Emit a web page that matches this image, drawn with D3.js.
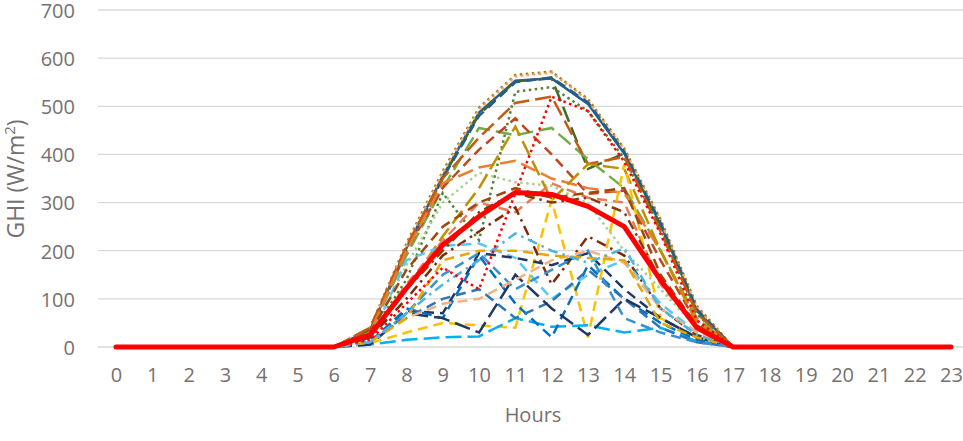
<!DOCTYPE html>
<meta charset="utf-8">
<style>
  body { margin: 0; background: #fff; }
  text { font-family: "Open Sans", sans-serif; fill: #767171; }
</style>
<script src="https://d3js.org/d3.v7.min.js"></script>
<div id="chart"></div>
<script>
// hours of the day
var hours = [0,1,2,3,4,5,6,7,8,9,10,11,12,13,14,15,16,17,18,19,20,21,22,23];
var yTicks = [0,100,200,300,400,500,600,700];

// daily GHI profiles (W/m2)
var day01 = [0,0,0,0,0,0,0,35,205,355,487,553,558,505,402,255,75,0,0,0,0,0,0,0];
var day02 = [0,0,0,0,0,0,0,40,215,365,497,565,572,515,412,265,85,0,0,0,0,0,0,0];
var day03 = [0,0,0,0,0,0,0,38,210,360,493,562,570,512,410,262,82,0,0,0,0,0,0,0];
var day04 = [0,0,0,0,0,0,0,35,205,352,483,552,558,370,402,250,72,0,0,0,0,0,0,0];
var day05 = [0,0,0,0,0,0,0,30,200,350,480,550,560,508,405,258,78,0,0,0,0,0,0,0];
var day06 = [0,0,0,0,0,0,0,25,140,320,222,530,540,490,392,245,68,0,0,0,0,0,0,0];
var day07 = [0,0,0,0,0,0,0,20,170,300,362,342,335,298,200,120,40,0,0,0,0,0,0,0];
var day08 = [0,0,0,0,0,0,0,30,190,330,455,440,455,390,330,200,60,0,0,0,0,0,0,0];
var day09 = [0,0,0,0,0,0,0,35,200,331,410,475,400,318,325,180,50,0,0,0,0,0,0,0];
var day10 = [0,0,0,0,0,0,0,40,210,350,435,507,520,380,395,240,70,0,0,0,0,0,0,0];
var day11 = [0,0,0,0,0,0,0,30,200,340,373,387,350,330,320,200,55,0,0,0,0,0,0,0];
var day12 = [0,0,0,0,0,0,0,20,120,230,330,458,305,380,370,200,50,0,0,0,0,0,0,0];
var day13 = [0,0,0,0,0,0,0,25,130,221,300,280,340,310,300,130,40,0,0,0,0,0,0,0];
var day14 = [0,0,0,0,0,0,0,8,30,50,45,40,305,20,380,60,20,0,0,0,0,0,0,0];
var day15 = [0,0,0,0,0,0,0,20,100,190,240,290,130,230,190,80,25,0,0,0,0,0,0,0];
var day16 = [0,0,0,0,0,0,0,5,15,20,22,60,42,45,30,40,12,0,0,0,0,0,0,0];
var day17 = [0,0,0,0,0,0,0,15,180,210,215,185,100,150,180,90,30,0,0,0,0,0,0,0];
var day18 = [0,0,0,0,0,0,0,10,75,70,195,185,170,195,120,60,20,0,0,0,0,0,0,0];
var day19 = [0,0,0,0,0,0,0,10,80,60,190,90,20,170,100,50,15,0,0,0,0,0,0,0];
var day20 = [0,0,0,0,0,0,0,15,60,100,120,60,95,160,100,40,10,0,0,0,0,0,0,0];
var day21 = [0,0,0,0,0,0,0,5,70,60,30,150,80,25,100,60,20,0,0,0,0,0,0,0];
var day22 = [0,0,0,0,0,0,0,10,70,150,195,120,160,200,60,30,10,0,0,0,0,0,0,0];
var day23 = [0,0,0,0,0,0,0,10,60,90,100,140,180,200,175,80,30,0,0,0,0,0,0,0];
var day24 = [0,0,0,0,0,0,0,10,60,180,200,200,190,185,180,50,20,0,0,0,0,0,0,0];
var day25 = [0,0,0,0,0,0,0,10,70,130,180,236,200,175,205,80,25,0,0,0,0,0,0,0];
var day26 = [0,0,0,0,0,0,0,15,90,165,120,320,520,490,385,235,55,0,0,0,0,0,0,0];
var day27 = [0,0,0,0,0,0,0,30,160,250,300,330,310,320,330,150,45,0,0,0,0,0,0,0];
var day28 = [0,0,0,0,0,0,0,20,120,200,280,320,300,310,280,140,40,0,0,0,0,0,0,0];
var average = [0,0,0,0,0,0,0,25,122,212,271,321,317,292,250,139,40,0,0,0,0,0,0,0];

var days = [day01,day02,day03,day04,day05,day06,day07,day08,day09,day10,day11,day12,day13,day14,
            day15,day16,day17,day18,day19,day20,day21,day22,day23,day24,day25,day26,day27,day28];

// line styles, one per day
var dot = "2.5,3.5", dash = "10,6", longDash = "16,6", dashDot = "10,5,2.5,5";
var styles = [
  ["#255e91", null], ["#a37a1d", dot], ["#f4a460", dot], ["#43682b", longDash],
  ["#1f5f8b", dash], ["#548235", dot], ["#a9d18e", dot], ["#70ad47", longDash],
  ["#c0461e", dash], ["#c55a11", longDash], ["#ed7d31", longDash], ["#bf9000", longDash],
  ["#ea7a5c", dash], ["#ffc000", dash], ["#7b2c0a", dashDot], ["#00b0f0", longDash],
  ["#5bc8f0", dash], ["#1f3864", dash], ["#0070c0", dash], ["#2e75b6", dash],
  ["#203864", longDash], ["#3b8fd0", dash], ["#f4b183", dash], ["#e6a800", dash],
  ["#4fb3e0", dashDot], ["#ff0000", dot], ["#9e480e", dash], ["#843c0c", dashDot]
];

var width = 963, height = 441;
var svg = d3.select("#chart").append("svg")
    .attr("width", width)
    .attr("height", height);

var x = d3.scalePoint().domain(hours).range([116, 951]);
var y = d3.scaleLinear().domain([0, 700]).range([347, 10]);

// gridlines
svg.append("g")
  .selectAll("line")
  .data(yTicks)
  .enter().append("line")
    .attr("x1", 98).attr("x2", width)
    .attr("y1", function(d) { return y(d); })
    .attr("y2", function(d) { return y(d); })
    .attr("stroke", "#d9d9d9")
    .attr("stroke-width", 1.3);

// y axis labels
var yAxis = svg.append("g")
    .attr("transform", "translate(75,1)")
    .call(d3.axisLeft(y).tickValues(yTicks).tickSize(0).tickPadding(0));
yAxis.select(".domain").remove();
yAxis.selectAll("text").style("font-size", "20px").attr("fill", "#767171");

// x axis labels
var xAxis = svg.append("g")
    .attr("transform", "translate(0,368)")
    .call(d3.axisBottom(x).tickSize(0).tickPadding(0));
xAxis.select(".domain").remove();
xAxis.selectAll("text").style("font-size", "20px").attr("fill", "#767171");

// titles
svg.append("text")
    .attr("x", 533).attr("y", 422)
    .attr("text-anchor", "middle")
    .style("font-size", "20px")
    .text("Hours");

var yt = svg.append("text")
    .attr("transform", "translate(24,179) rotate(-90)")
    .attr("text-anchor", "middle")
    .style("font-size", "23px");
yt.append("tspan").text("GHI (W/m");
yt.append("tspan").attr("dy", -9).style("font-size", "15px").text("2");
yt.append("tspan").attr("dy", 9).text(")");

var line = d3.line()
    .x(function(d, i) { return x(hours[i]); })
    .y(function(d) { return y(d); });

// daily lines
svg.append("g")
  .selectAll("path")
  .data(days)
  .enter().append("path")
    .attr("d", line)
    .attr("fill", "none")
    .attr("stroke", function(d, i) { return styles[i][0]; })
    .attr("stroke-dasharray", function(d, i) { return styles[i][1]; })
    .attr("stroke-width", 2.5);

// average
svg.append("path")
    .datum(average)
    .attr("d", line)
    .attr("fill", "none")
    .attr("stroke", "#ff0000")
    .attr("stroke-width", 5)
    .attr("stroke-linejoin", "round")
    .attr("stroke-linecap", "round");
</script>
